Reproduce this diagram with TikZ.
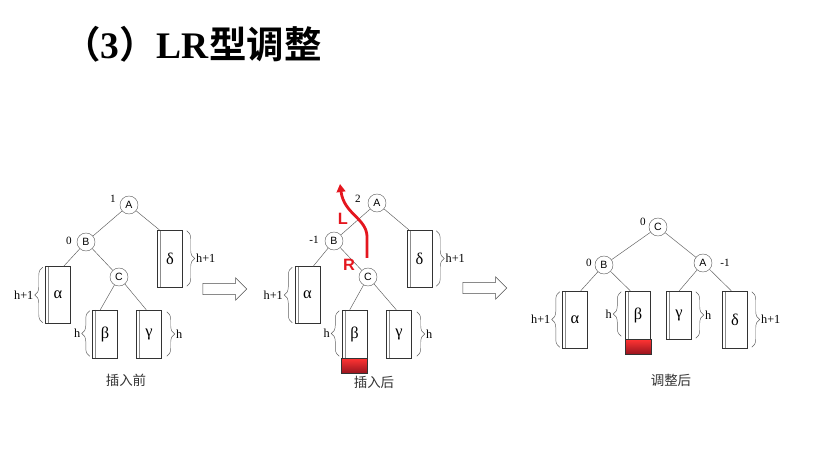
\documentclass[tikz,border=0pt]{standalone}
\usepackage{fontspec}
\setmainfont{Liberation Serif}
\newfontfamily\cjk{Noto Sans CJK SC}[BoldFont={Noto Sans CJK SC Bold}]
\newfontfamily\sans{Liberation Sans}
\usepackage{tikz}
\usetikzlibrary{arrows.meta, positioning, calc, decorations.pathreplacing, shapes.arrows}
\definecolor{cred}{RGB}{228,22,30}
\definecolor{cdark}{RGB}{150,20,30}
\definecolor{cline}{RGB}{95,95,95}

\begin{document}
\begin{tikzpicture}[x=0.03cm, y=-0.03cm,
    >={Triangle[length=2.4mm, width=2.6mm]},
    tnode/.style={draw=cline, circle, fill=white, minimum size=0.54cm, inner sep=0pt, font=\sans\fontsize{9}{9}\selectfont},
    bal/.style={inner sep=0pt, font=\fontsize{9.5}{9.5}\selectfont},
    subtree/.style={draw=black!80, minimum width=0.75cm, inner sep=0pt, font=\fontsize{14}{14}\selectfont,
        path picture={\draw[black!45] ([xshift=2.5pt]path picture bounding box.north west) -- ([xshift=2.5pt]path picture bounding box.south west);}},
    tallbox/.style={subtree, minimum height=1.71cm},
    shortbox/.style={subtree, minimum height=1.44cm},
    newbox/.style={draw=black!80, minimum width=0.78cm, minimum height=0.45cm, inner sep=0pt, top color=red!80, bottom color=cdark},
    edge/.style={draw=cline, thin},
    brc/.style={decorate, decoration={brace, amplitude=0.24cm}, draw=cline, thin},
    hlbl/.style={inner sep=1pt, font=\fontsize{10.5}{10.5}\selectfont},
    hollow/.style={draw=black!70, thin, single arrow, minimum height=1.32cm, inner sep=0.16cm, single arrow head extend=0.17cm, single arrow tip angle=90},
    caption/.style={text=black!80, font=\cjk\fontsize{11.5}{11.5}\selectfont},
    turn/.style={text=cred, font=\sans\bfseries\fontsize{14}{14}\selectfont},
]
    \useasboundingbox (0,0) rectangle (815,461);

    % Title
    \node[anchor=west, inner sep=0pt, font=\bfseries\fontsize{32}{34}\selectfont] (title) at (63,44) {{\cjk （}3{\cjk ）}LR{\cjk 型调整}};

    % Before insertion
    \node[tnode] (a1) at (129,205) {A};
    \node[tnode] (b1) at (86,242) {B};
    \node[tnode] (c1) at (119,277) {C};
    \node[bal] (fa1) at (113,199) {1};
    \node[bal] (fb1) at (69,241) {0};
    \node[tallbox] (al1) at (58,295) {α};
    \node[tallbox] (de1) at (170,258.5) {δ};
    \node[shortbox] (be1) at (105,334) {β};
    \node[shortbox] (ga1) at (149,334) {γ};

    \draw[edge] (a1) -- (b1);
    \draw[edge] (b1) -- (c1);
    \draw[edge] (a1) -- ($(de1.north west)+(2,0)$);
    \draw[edge] (b1) -- ($(al1.north east)+(-7,0)$);
    \draw[edge] (c1) -- ($(be1.north west)+(8,0)$);
    \draw[edge] (c1) -- ($(ga1.north west)+(10,0)$);

    \draw[brc] ($(al1.south west)+(-2.5,-1)$) -- ($(al1.north west)+(-2.5,1)$) node[hlbl, midway, left=0.24cm] (hal1) {h+1};
    \draw[brc] ($(de1.north east)+(4,1)$) -- ($(de1.south east)+(4,-1)$) node[hlbl, midway, right=0.24cm] (hde1) {h+1};
    \draw[brc] ($(be1.south west)+(-2.5,-2)$) -- ($(be1.north west)+(-2.5,1)$) node[hlbl, midway, left=0.24cm] (hbe1) {h};
    \draw[brc] ($(ga1.north east)+(5,2)$) -- ($(ga1.south east)+(5,-2)$) node[hlbl, midway, right=0.24cm] (hga1) {h};

    \node[caption] (cap1) at (126,380) {插入前};
    \node[hollow] (arr1) at (222,289) {};

    % After insertion
    \node[tnode] (a2) at (377,203) {A};
    \node[tnode] (b2) at (334,241) {B};
    \node[tnode] (c2) at (368,277) {C};
    \node[bal] (fa2) at (358,199) {2};
    \node[bal] (fb2) at (314,240) {-1};
    \node[tallbox] (al2) at (307.5,295) {α};
    \node[tallbox] (de2) at (419.5,258.5) {δ};
    \node[shortbox] (be2) at (354.5,334) {β};
    \node[shortbox] (ga2) at (399,334) {γ};
    \node[newbox, below=0pt of be2] (nw2) {};

    \draw[edge] (a2) -- (b2);
    \draw[edge] (b2) -- (c2);
    \draw[edge] (a2) -- ($(de2.north west)+(2,0)$);
    \draw[edge] (b2) -- ($(al2.north east)+(-7,0)$);
    \draw[edge] (c2) -- ($(be2.north west)+(8,0)$);
    \draw[edge] (c2) -- ($(ga2.north west)+(10,0)$);

    \draw[brc] ($(al2.south west)+(-2.5,-1)$) -- ($(al2.north west)+(-2.5,1)$) node[hlbl, midway, left=0.24cm] (hal2) {h+1};
    \draw[brc] ($(de2.north east)+(4,1)$) -- ($(de2.south east)+(4,-1)$) node[hlbl, midway, right=0.24cm] (hde2) {h+1};
    \draw[brc] ($(be2.south west)+(-2.5,-2)$) -- ($(be2.north west)+(-2.5,1)$) node[hlbl, midway, left=0.24cm] (hbe2) {h};
    \draw[brc] ($(ga2.north east)+(5,2)$) -- ($(ga2.south east)+(5,-2)$) node[hlbl, midway, right=0.24cm] (hga2) {h};

    % rotation path
    \coordinate (rs) at (367,258);
    \coordinate (re) at (340,184);
    \draw[->, cred, line width=2.4pt] (rs) -- (367,236) .. controls (366,218) and (344,214) .. (re);
    \node[turn] (tl) at (343,219) {L};
    \node[turn] (tr) at (349,265) {R};

    \node[caption] (cap2) at (374,382) {插入后};
    \node[hollow] (arr2) at (482,288) {};

    % After adjustment
    \node[tnode] (c3) at (658,227) {C};
    \node[tnode] (b3) at (604,265) {B};
    \node[tnode] (a3) at (703,263) {A};
    \node[bal] (fc3) at (643,222) {0};
    \node[bal] (fb3) at (589,263) {0};
    \node[bal] (fa3) at (725,263) {-1};
    \node[tallbox] (al3) at (575,319.5) {α};
    \node[shortbox] (be3) at (638,315) {β};
    \node[newbox, below=0pt of be3] (nw3) {};
    \node[shortbox] (ga3) at (679,315) {γ};
    \node[tallbox] (de3) at (735,319.5) {δ};

    \draw[edge] (c3) -- (b3);
    \draw[edge] (c3) -- (a3);
    \draw[edge] (b3) -- ($(al3.north east)+(-7,0)$);
    \draw[edge] (b3) -- ($(be3.north west)+(5,0)$);
    \draw[edge] (a3) -- ($(ga3.north west)+(13,0)$);
    \draw[edge] (a3) -- ($(de3.north west)+(9,0)$);

    \draw[brc] ($(al3.south west)+(-2.5,-1)$) -- ($(al3.north west)+(-2.5,1)$) node[hlbl, midway, left=0.24cm] (hal3) {h+1};
    \draw[brc] ($(be3.south west)+(-4,-3)$) -- ($(be3.north west)+(-4,1)$) node[hlbl, midway, left=0.24cm] (hbe3) {h};
    \draw[brc] ($(ga3.north east)+(4,1)$) -- ($(ga3.south east)+(4,-1)$) node[hlbl, midway, right=0.24cm] (hga3) {h};
    \draw[brc] ($(de3.north east)+(4,1)$) -- ($(de3.south east)+(4,-1)$) node[hlbl, midway, right=0.24cm] (hde3) {h+1};

    \node[caption] (cap3) at (671,380) {调整后};
\end{tikzpicture}
\end{document}
